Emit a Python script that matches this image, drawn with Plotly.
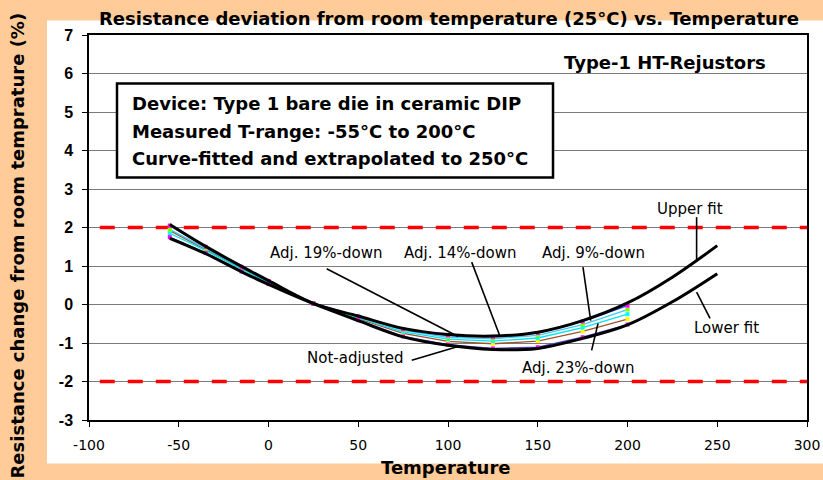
import plotly.graph_objects as go

# ---------------- data ----------------
temps_measured = [-55, -35, -15, 0, 25, 50, 75, 100, 125, 150, 175, 200]
adj_9_down = [2.05, 1.50, 0.98, 0.61, 0.03, -0.31, -0.64, -0.80, -0.84, -0.74, -0.44, -0.03]
adj_14_down = [1.95, 1.45, 0.95, 0.59, 0.02, -0.33, -0.67, -0.85, -0.89, -0.80, -0.52, -0.13]
adj_19_down = [1.85, 1.40, 0.92, 0.57, 0.02, -0.35, -0.71, -0.90, -0.95, -0.87, -0.60, -0.25]
adj_23_down = [1.92, 1.42, 0.93, 0.58, 0.02, -0.37, -0.75, -0.96, -1.02, -0.95, -0.70, -0.38]
not_adjusted = [1.75, 1.34, 0.86, 0.53, 0.02, -0.41, -0.83, -1.04, -1.14, -1.11, -0.85, -0.52]

temps_fit = [-55, -35, -15, 0, 25, 50, 75, 100, 125, 150, 175, 200, 225, 250]
upper_fit = [2.08, 1.51, 0.99, 0.62, 0.03, -0.30, -0.62, -0.78, -0.82, -0.72, -0.42, 0.04, 0.71, 1.53]
lower_fit = [1.72, 1.32, 0.85, 0.52, 0.02, -0.42, -0.84, -1.06, -1.17, -1.14, -0.88, -0.53, 0.07, 0.80]

limit_x = [-94, 300]
limit_hi = [2, 2]
limit_lo = [-2, -2]

x_ticks = [-100, -50, 0, 50, 100, 150, 200, 250, 300]
y_ticks = [-3, -2, -1, 0, 1, 2, 3, 4, 5, 6, 7]

series = [
    ("Adj. 23%-down", adj_23_down, "#A0522D", "#FFFF00"),
    ("Adj. 19%-down", adj_19_down, "#00E5EE", "#00FFFF"),
    ("Adj. 14%-down", adj_14_down, "#40C8FF", "#80FF00"),
    ("Adj. 9%-down", adj_9_down, "#3050FF", "#FF00FF"),
    ("Not-adjusted", not_adjusted, "#5040C0", "#FF00FF"),
]

# ---------------- figure ----------------
fig = go.Figure()

for yy in (limit_hi, limit_lo):
    fig.add_trace(go.Scatter(x=limit_x, y=yy, mode="lines",
                             line=dict(color="#FF0000", width=3.5, dash="15px,13px"),
                             hoverinfo="skip"))

for name, vals, lc, mc in series:
    fig.add_trace(go.Scatter(x=temps_measured, y=vals, mode="lines+markers", name=name,
                             line=dict(color=lc, width=1.3),
                             marker=dict(symbol="square", size=4, color=mc)))

for name, vals in (("Upper fit", upper_fit), ("Lower fit", lower_fit)):
    fig.add_trace(go.Scatter(x=temps_fit, y=vals, mode="lines", name=name,
                             line=dict(color="black", width=3, shape="spline", smoothing=1.0)))

font_bold = "DejaVu Sans, sans-serif"
font_reg = "DejaVu Sans, sans-serif"
font_tick = "Liberation Sans, Arial, sans-serif"

annotations = []
pointers = [
    (32.4, 0.93, 105.6, -0.83),
    (113.2, 1.10, 129.0, -0.83),
    (175.2, 0.97, 179.5, -0.42),
    (180.0, -1.19, 183.6, -0.49),
    (79.8, -1.45, 105.6, -1.09),
    (238.5, 2.27, 238.5, 1.14),
    (246.0, -0.36, 238.5, 0.32),
]
shapes = []
# white panel behind the chart
shapes.append(dict(type="rect", xref="paper", yref="paper", x0=-0.0585, x1=1.03,
                   y0=-0.113, y1=1.0377, fillcolor="white", line=dict(width=0), layer="below"))
for x0, y0, x1, y1 in pointers:
    shapes.append(dict(type="line", xref="x", yref="y", x0=x0, y0=y0, x1=x1, y1=y1,
                       line=dict(color="black", width=1.6)))

labels = [
    ("Adj. 19%-down", 32.0, 1.35),
    ("Adj. 14%-down", 106.7, 1.35),
    ("Adj. 9%-down", 180.8, 1.35),
    ("Upper fit", 234.8, 2.49),
    ("Lower fit", 255.4, -0.60),
    ("Not-adjusted", 48.2, -1.40),
    ("Adj. 23%-down", 172.4, -1.64),
]
for t, x, y in labels:
    annotations.append(dict(text=t, x=x, y=y, xref="x", yref="y", showarrow=False,
                            xanchor="center", yanchor="middle",
                            font=dict(family=font_reg, size=15, color="black")))

annotations.append(dict(text="<b>Type-1 HT-Rejustors</b>", x=220.9, y=6.29, xref="x", yref="y",
                        showarrow=False, xanchor="center", yanchor="middle",
                        font=dict(family=font_bold, size=18, color="black")))

box_lines = [
    ("Device: Type 1 bare die in ceramic DIP", 5.22),
    ("Measured T-range: -55°C to 200°C", 4.49),
    ("Curve-fitted and extrapolated to 250°C", 3.79),
]
for t, y in box_lines:
    annotations.append(dict(text="<b>" + t + "</b>", x=-77.2, y=y, xref="x", yref="y",
                            xanchor="left", yanchor="middle", showarrow=False,
                            font=dict(family=font_bold, size=18, color="black")))
shapes.append(dict(type="rect", xref="x", yref="y", x0=-84.4, x1=158.5, y0=3.30, y1=5.74,
                   line=dict(color="black", width=2.5), fillcolor="white", layer="above"))

annotations.append(dict(text="<b>Resistance deviation from room temperature (25°C) vs. Temperature</b>",
                        x=0.502, y=1.043, xref="paper", yref="paper", showarrow=False,
                        xanchor="center", yanchor="middle",
                        font=dict(family=font_bold, size=18, color="black")))
annotations.append(dict(text="<b>Resistance change from room temprature (%)</b>",
                        x=-0.099, y=0.453, xref="paper", yref="paper", showarrow=False,
                        xanchor="center", yanchor="middle",
                        textangle=-90, font=dict(family=font_bold, size=18, color="black")))
annotations.append(dict(text="<b>Temperature</b>", x=0.497, y=-0.123, xref="paper", yref="paper",
                        showarrow=False, xanchor="center", yanchor="middle",
                        font=dict(family=font_bold, size=18, color="black")))

fig.update_layout(
    width=823, height=480,
    margin=dict(l=89, r=16, t=35, b=60, pad=0, autoexpand=False),
    paper_bgcolor="#FFCC99",
    plot_bgcolor="white",
    showlegend=False,
    shapes=shapes,
    annotations=annotations,
    font=dict(family=font_reg, size=14, color="black"),
)
fig.update_xaxes(range=[-100, 300], tickvals=x_ticks, ticktext=[str(v) for v in x_ticks],
                 ticks="outside", ticklen=5, automargin=False, ticklabelstandoff=6,
                 tickcolor="black", showline=True, linecolor="black", linewidth=1.5,
                 mirror=True, showgrid=False, zeroline=False,
                 tickfont=dict(family=font_reg, size=14, color="black"))
fig.update_yaxes(range=[-3, 7], tickvals=y_ticks, ticktext=[str(v) for v in y_ticks],
                 ticks="outside", ticklen=5, automargin=False, ticklabelstandoff=6,
                 tickcolor="black", showline=True, linecolor="black", linewidth=1.5,
                 mirror=True, showgrid=True, gridcolor="#7a7a7a", gridwidth=1,
                 zeroline=False,
                 tickfont=dict(family=font_tick, size=16, color="black", weight="bold"))

fig.write_html("out.html", config={"displayModeBar": False},
               post_script="document.body.style.margin='0';")
